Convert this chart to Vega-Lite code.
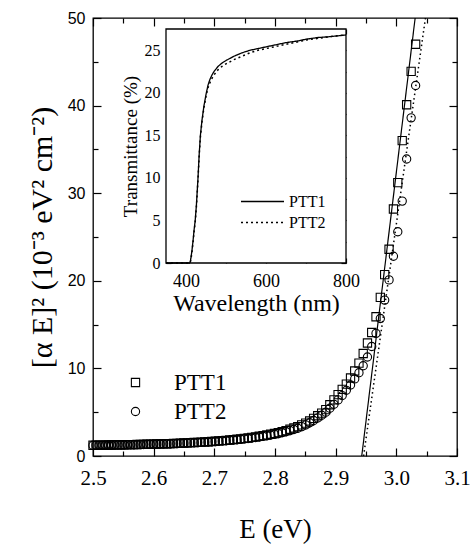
{
"$schema":"https://vega.github.io/schema/vega-lite/v6.json",
"width":364,"height":438,
"autosize":{"type":"none"},
"padding":{"left":93,"top":18,"right":14,"bottom":96},
"background":"white",
"config":{"font":"Liberation Serif","view":{"stroke":"black","strokeWidth":1.3},"axis":{"grid":false,"domain":false,"tickColor":"black","tickWidth":1.2,"labelColor":"black","titleColor":"black","labelFont":"Liberation Serif","titleFont":"Liberation Serif","titleFontWeight":"normal"},"legend":{"labelFont":"Liberation Serif","labelColor":"black"}},
"datasets":{
"pts":[
{"E":3.0318,"s":"PTT1","v":47.0},{"E":3.0244,"s":"PTT1","v":43.9},{"E":3.0170,"s":"PTT1","v":40.1},{"E":3.0097,"s":"PTT1","v":36.0},{"E":3.0024,"s":"PTT1","v":31.2},{"E":2.9952,"s":"PTT1","v":28.2},{"E":2.9880,"s":"PTT1","v":23.6},{"E":2.9808,"s":"PTT1","v":20.7},{"E":2.9736,"s":"PTT1","v":18.1},{"E":2.9665,"s":"PTT1","v":15.9},
{"E":2.9594,"s":"PTT1","v":14.1},{"E":2.9524,"s":"PTT1","v":12.9},{"E":2.9454,"s":"PTT1","v":11.7},{"E":2.9384,"s":"PTT1","v":10.6},{"E":2.9314,"s":"PTT1","v":9.7},{"E":2.9245,"s":"PTT1","v":8.9},{"E":2.9176,"s":"PTT1","v":8.2},{"E":2.9108,"s":"PTT1","v":7.6},{"E":2.9040,"s":"PTT1","v":7.0},{"E":2.8972,"s":"PTT1","v":6.4},
{"E":2.8904,"s":"PTT1","v":5.85},{"E":2.8837,"s":"PTT1","v":5.3},{"E":2.8770,"s":"PTT1","v":4.9},{"E":2.8704,"s":"PTT1","v":4.6},{"E":2.8637,"s":"PTT1","v":4.3},{"E":2.8571,"s":"PTT1","v":4.0},{"E":2.8506,"s":"PTT1","v":3.75},{"E":2.8440,"s":"PTT1","v":3.55},{"E":2.8375,"s":"PTT1","v":3.35},{"E":2.8311,"s":"PTT1","v":3.2},
{"E":2.8246,"s":"PTT1","v":3.05},{"E":2.8182,"s":"PTT1","v":2.9},{"E":2.8118,"s":"PTT1","v":2.78},{"E":2.8054,"s":"PTT1","v":2.67},{"E":2.7991,"s":"PTT1","v":2.57},{"E":2.7928,"s":"PTT1","v":2.48},{"E":2.7865,"s":"PTT1","v":2.4},{"E":2.7803,"s":"PTT1","v":2.32},{"E":2.7740,"s":"PTT1","v":2.25},{"E":2.7679,"s":"PTT1","v":2.18},
{"E":2.7617,"s":"PTT1","v":2.12},{"E":2.7556,"s":"PTT1","v":2.06},{"E":2.7494,"s":"PTT1","v":2.01},{"E":2.7434,"s":"PTT1","v":1.96},{"E":2.7373,"s":"PTT1","v":1.91},{"E":2.7313,"s":"PTT1","v":1.87},{"E":2.7253,"s":"PTT1","v":1.83},{"E":2.7193,"s":"PTT1","v":1.79},{"E":2.7133,"s":"PTT1","v":1.75},{"E":2.7074,"s":"PTT1","v":1.72},
{"E":2.7015,"s":"PTT1","v":1.69},{"E":2.6957,"s":"PTT1","v":1.66},{"E":2.6898,"s":"PTT1","v":1.63},{"E":2.6840,"s":"PTT1","v":1.61},{"E":2.6782,"s":"PTT1","v":1.58},{"E":2.6724,"s":"PTT1","v":1.56},{"E":2.6667,"s":"PTT1","v":1.54},{"E":2.6609,"s":"PTT1","v":1.52},{"E":2.6552,"s":"PTT1","v":1.50},{"E":2.6496,"s":"PTT1","v":1.48},
{"E":2.6439,"s":"PTT1","v":1.46},{"E":2.6383,"s":"PTT1","v":1.45},{"E":2.6327,"s":"PTT1","v":1.43},{"E":2.6271,"s":"PTT1","v":1.42},{"E":2.6216,"s":"PTT1","v":1.40},{"E":2.6160,"s":"PTT1","v":1.39},{"E":2.6105,"s":"PTT1","v":1.38},{"E":2.6050,"s":"PTT1","v":1.37},{"E":2.5996,"s":"PTT1","v":1.36},{"E":2.5941,"s":"PTT1","v":1.35},
{"E":2.5887,"s":"PTT1","v":1.34},{"E":2.5833,"s":"PTT1","v":1.33},{"E":2.5780,"s":"PTT1","v":1.32},{"E":2.5726,"s":"PTT1","v":1.31},{"E":2.5673,"s":"PTT1","v":1.30},{"E":2.5620,"s":"PTT1","v":1.30},{"E":2.5567,"s":"PTT1","v":1.29},{"E":2.5514,"s":"PTT1","v":1.28},{"E":2.5462,"s":"PTT1","v":1.28},{"E":2.5410,"s":"PTT1","v":1.27},
{"E":2.5358,"s":"PTT1","v":1.27},{"E":2.5306,"s":"PTT1","v":1.26},{"E":2.5255,"s":"PTT1","v":1.26},{"E":2.5203,"s":"PTT1","v":1.25},{"E":2.5152,"s":"PTT1","v":1.25},{"E":2.5101,"s":"PTT1","v":1.24},{"E":2.5051,"s":"PTT1","v":1.24},{"E":2.5000,"s":"PTT1","v":1.23},
{"E":3.0318,"s":"PTT2","v":42.3},{"E":3.0244,"s":"PTT2","v":38.6},{"E":3.0170,"s":"PTT2","v":33.9},{"E":3.0097,"s":"PTT2","v":29.1},{"E":3.0024,"s":"PTT2","v":25.6},{"E":2.9952,"s":"PTT2","v":22.8},{"E":2.9880,"s":"PTT2","v":20.1},{"E":2.9808,"s":"PTT2","v":17.8},{"E":2.9736,"s":"PTT2","v":15.7},{"E":2.9665,"s":"PTT2","v":14.0},
{"E":2.9594,"s":"PTT2","v":12.5},{"E":2.9524,"s":"PTT2","v":11.3},{"E":2.9454,"s":"PTT2","v":10.3},{"E":2.9384,"s":"PTT2","v":9.5},{"E":2.9314,"s":"PTT2","v":8.8},{"E":2.9245,"s":"PTT2","v":8.1},{"E":2.9176,"s":"PTT2","v":7.5},{"E":2.9108,"s":"PTT2","v":6.9},{"E":2.9040,"s":"PTT2","v":6.4},{"E":2.8972,"s":"PTT2","v":5.9},
{"E":2.8904,"s":"PTT2","v":5.45},{"E":2.8837,"s":"PTT2","v":5.0},{"E":2.8770,"s":"PTT2","v":4.65},{"E":2.8704,"s":"PTT2","v":4.35},{"E":2.8637,"s":"PTT2","v":4.05},{"E":2.8571,"s":"PTT2","v":3.8},{"E":2.8506,"s":"PTT2","v":3.55},{"E":2.8440,"s":"PTT2","v":3.35},{"E":2.8375,"s":"PTT2","v":3.17},{"E":2.8311,"s":"PTT2","v":3.02},
{"E":2.8246,"s":"PTT2","v":2.89},{"E":2.8182,"s":"PTT2","v":2.77},{"E":2.8118,"s":"PTT2","v":2.66},{"E":2.8054,"s":"PTT2","v":2.56},{"E":2.7991,"s":"PTT2","v":2.47},{"E":2.7928,"s":"PTT2","v":2.39},{"E":2.7865,"s":"PTT2","v":2.31},{"E":2.7803,"s":"PTT2","v":2.24},{"E":2.7740,"s":"PTT2","v":2.17},{"E":2.7679,"s":"PTT2","v":2.11},
{"E":2.7617,"s":"PTT2","v":2.05},{"E":2.7556,"s":"PTT2","v":2.0},{"E":2.7494,"s":"PTT2","v":1.95},{"E":2.7434,"s":"PTT2","v":1.90},{"E":2.7373,"s":"PTT2","v":1.86},{"E":2.7313,"s":"PTT2","v":1.82},{"E":2.7253,"s":"PTT2","v":1.78},{"E":2.7193,"s":"PTT2","v":1.74},{"E":2.7133,"s":"PTT2","v":1.71},{"E":2.7074,"s":"PTT2","v":1.68},
{"E":2.7015,"s":"PTT2","v":1.65},{"E":2.6957,"s":"PTT2","v":1.62},{"E":2.6898,"s":"PTT2","v":1.60},{"E":2.6840,"s":"PTT2","v":1.57},{"E":2.6782,"s":"PTT2","v":1.55},{"E":2.6724,"s":"PTT2","v":1.53},{"E":2.6667,"s":"PTT2","v":1.51},{"E":2.6609,"s":"PTT2","v":1.49},{"E":2.6552,"s":"PTT2","v":1.47},{"E":2.6496,"s":"PTT2","v":1.45},
{"E":2.6439,"s":"PTT2","v":1.44},{"E":2.6383,"s":"PTT2","v":1.42},{"E":2.6327,"s":"PTT2","v":1.41},{"E":2.6271,"s":"PTT2","v":1.39},{"E":2.6216,"s":"PTT2","v":1.38},{"E":2.6160,"s":"PTT2","v":1.37},{"E":2.6105,"s":"PTT2","v":1.36},{"E":2.6050,"s":"PTT2","v":1.35},{"E":2.5996,"s":"PTT2","v":1.34},{"E":2.5941,"s":"PTT2","v":1.33},
{"E":2.5887,"s":"PTT2","v":1.32},{"E":2.5833,"s":"PTT2","v":1.31},{"E":2.5780,"s":"PTT2","v":1.30},{"E":2.5726,"s":"PTT2","v":1.29},{"E":2.5673,"s":"PTT2","v":1.28},{"E":2.5620,"s":"PTT2","v":1.28},{"E":2.5567,"s":"PTT2","v":1.27},{"E":2.5514,"s":"PTT2","v":1.26},{"E":2.5462,"s":"PTT2","v":1.26},{"E":2.5410,"s":"PTT2","v":1.25},
{"E":2.5358,"s":"PTT2","v":1.25},{"E":2.5306,"s":"PTT2","v":1.24},{"E":2.5255,"s":"PTT2","v":1.24},{"E":2.5203,"s":"PTT2","v":1.23},{"E":2.5152,"s":"PTT2","v":1.23},{"E":2.5101,"s":"PTT2","v":1.22},{"E":2.5051,"s":"PTT2","v":1.22},{"E":2.5000,"s":"PTT2","v":1.21}
],
"fit":[
{"E":2.943,"fit":"PTT1","v":0},{"E":3.031,"fit":"PTT1","v":50},
{"E":2.946,"fit":"PTT2","v":0},{"E":3.048,"fit":"PTT2","v":50}
],
"trans":[
{"w":350,"film":"PTT1","t":0},{"w":405,"film":"PTT1","t":0},{"w":410,"film":"PTT1","t":0},{"w":412,"film":"PTT1","t":0.5},{"w":415,"film":"PTT1","t":1.5},{"w":418,"film":"PTT1","t":2.8},{"w":420,"film":"PTT1","t":3.8},{"w":423,"film":"PTT1","t":5.0},{"w":426,"film":"PTT1","t":6.8},{"w":430,"film":"PTT1","t":10.0},
{"w":433,"film":"PTT1","t":12.8},{"w":436,"film":"PTT1","t":15.0},{"w":440,"film":"PTT1","t":16.8},{"w":445,"film":"PTT1","t":18.5},{"w":450,"film":"PTT1","t":19.8},{"w":455,"film":"PTT1","t":20.9},{"w":460,"film":"PTT1","t":21.6},{"w":465,"film":"PTT1","t":22.1},{"w":470,"film":"PTT1","t":22.5},{"w":480,"film":"PTT1","t":23.1},
{"w":490,"film":"PTT1","t":23.5},{"w":500,"film":"PTT1","t":23.8},{"w":520,"film":"PTT1","t":24.3},{"w":540,"film":"PTT1","t":24.7},{"w":560,"film":"PTT1","t":25.0},{"w":580,"film":"PTT1","t":25.2},{"w":600,"film":"PTT1","t":25.4},{"w":620,"film":"PTT1","t":25.6},{"w":650,"film":"PTT1","t":25.9},{"w":680,"film":"PTT1","t":26.1},
{"w":700,"film":"PTT1","t":26.3},{"w":730,"film":"PTT1","t":26.5},{"w":760,"film":"PTT1","t":26.6},{"w":780,"film":"PTT1","t":26.7},{"w":800,"film":"PTT1","t":26.8},
{"w":350,"film":"PTT2","t":0},{"w":405,"film":"PTT2","t":0},{"w":410,"film":"PTT2","t":0},{"w":412,"film":"PTT2","t":0.3},{"w":415,"film":"PTT2","t":1.3},{"w":418,"film":"PTT2","t":2.6},{"w":420,"film":"PTT2","t":3.6},{"w":423,"film":"PTT2","t":4.8},{"w":426,"film":"PTT2","t":6.6},{"w":430,"film":"PTT2","t":9.8},
{"w":433,"film":"PTT2","t":12.6},{"w":436,"film":"PTT2","t":14.8},{"w":440,"film":"PTT2","t":16.6},{"w":445,"film":"PTT2","t":18.3},{"w":450,"film":"PTT2","t":19.6},{"w":455,"film":"PTT2","t":20.6},{"w":460,"film":"PTT2","t":21.2},{"w":465,"film":"PTT2","t":21.7},{"w":470,"film":"PTT2","t":22.1},{"w":480,"film":"PTT2","t":22.7},
{"w":490,"film":"PTT2","t":23.1},{"w":500,"film":"PTT2","t":23.4},{"w":520,"film":"PTT2","t":23.9},{"w":540,"film":"PTT2","t":24.3},{"w":560,"film":"PTT2","t":24.7},{"w":580,"film":"PTT2","t":25.0},{"w":600,"film":"PTT2","t":25.2},{"w":620,"film":"PTT2","t":25.4},{"w":650,"film":"PTT2","t":25.7},{"w":680,"film":"PTT2","t":26.0},
{"w":700,"film":"PTT2","t":26.2},{"w":730,"film":"PTT2","t":26.4},{"w":760,"film":"PTT2","t":26.6},{"w":780,"film":"PTT2","t":26.7},{"w":800,"film":"PTT2","t":26.8}
]
},
"layer":[
{
"layer":[
{
"data":{"name":"pts"},
"transform":[{"filter":"datum.s=='PTT1'"}],
"mark":{"type":"point","filled":false,"stroke":"black","strokeWidth":1.1,"opacity":1,"size":68},
"encoding":{
"x":{"field":"E","type":"quantitative","scale":{"domain":[2.5,3.1],"nice":false,"zero":false},
"axis":{"orient":"bottom","offset":-8,"values":[2.5,2.6,2.7,2.8,2.9,3.0,3.1],"tickSize":8,"format":".1f",
"labelFont":"Liberation Serif","labelFontSize":21,"labelPadding":11,"labelFlush":false,"title":"E (eV)","titleFont":"Liberation Serif","titleFontSize":27,"titlePadding":28}},
"y":{"field":"v","type":"quantitative","scale":{"domain":[0,50],"nice":false},
"axis":{"orient":"left","offset":-8,"values":[0,10,20,30,40,50],"tickSize":8,
"labelFont":"Liberation Sans","labelFontSize":16,"labelPadding":8,"labelFlush":false,"title":"[α E]² (10⁻³ eV² cm⁻²)","titleFont":"Liberation Serif","titleFontSize":30,"titlePadding":10}},
"shape":{"field":"s","type":"nominal","scale":{"domain":["PTT1","PTT2"],"range":["square","circle"]},
"legend":{"title":null,"orient":"none","legendX":31,"legendY":353,"labelFont":"Liberation Serif","labelFontSize":23,"labelOffset":27,"rowPadding":5,"symbolSize":68,"symbolStrokeColor":"black","symbolStrokeWidth":1.1,"symbolFillColor":"transparent"}}
}
},
{
"data":{"name":"pts"},
"transform":[{"filter":"datum.s=='PTT2'"}],
"mark":{"type":"point","filled":false,"stroke":"black","strokeWidth":1.1,"opacity":1,"size":68},
"encoding":{
"x":{"field":"E","type":"quantitative","axis":{"orient":"bottom","offset":-5,"values":[2.55,2.65,2.75,2.85,2.95,3.05],"tickSize":5,"labels":false,"title":null}},
"y":{"field":"v","type":"quantitative","axis":{"orient":"left","offset":-5,"values":[5,15,25,35,45],"tickSize":5,"labels":false,"title":null}},
"shape":{"field":"s","type":"nominal"}
}
},
{
"data":{"name":"fit"},
"transform":[{"filter":"datum.fit=='PTT1'"}],
"mark":{"type":"line","color":"black","strokeWidth":1.2},
"encoding":{
"x":{"field":"E","type":"quantitative","axis":{"orient":"top","offset":-8,"values":[2.5,2.6,2.7,2.8,2.9,3.0,3.1],"tickSize":8,"labels":false,"title":null}},
"y":{"field":"v","type":"quantitative","axis":{"orient":"right","offset":-8,"values":[0,10,20,30,40,50],"tickSize":8,"labels":false,"title":null}}
}
},
{
"data":{"name":"fit"},
"transform":[{"filter":"datum.fit=='PTT2'"}],
"mark":{"type":"line","color":"black","strokeWidth":1.5,"strokeDash":[1.5,3]},
"encoding":{
"x":{"field":"E","type":"quantitative","axis":{"orient":"top","offset":-5,"values":[2.55,2.65,2.75,2.85,2.95,3.05],"tickSize":5,"labels":false,"title":null}},
"y":{"field":"v","type":"quantitative","axis":{"orient":"right","offset":-5,"values":[5,15,25,35,45],"tickSize":5,"labels":false,"title":null}}
}
}
],
"resolve":{"axis":{"x":"independent","y":"independent"}}
},
{
"layer":[
{
"data":{"values":[{}]},
"mark":{"type":"rect","fill":"white","stroke":"black","strokeWidth":1.3},
"encoding":{
"x":{"datum":350,"type":"quantitative","scale":{"domain":[350,800],"range":[73,253],"nice":false,"zero":false},"axis":null},
"x2":{"datum":800},
"y":{"datum":0,"type":"quantitative","scale":{"domain":[0,27.5],"range":[245,11],"nice":false},"axis":null},
"y2":{"datum":27.5}
}
},
{
"data":{"name":"trans"},
"transform":[{"filter":"datum.film=='PTT1'"}],
"mark":{"type":"line","color":"black","strokeWidth":1.3},
"encoding":{
"x":{"field":"w","type":"quantitative",
"axis":{"orient":"bottom","offset":-198,"values":[400,500,600,700,800],"tickSize":5,
"labelExpr":"datum.value%200==0 ? datum.label : ''","labelFont":"Liberation Serif","labelFontSize":18,"labelPadding":9,"labelFlush":false,"title":"Wavelength (nm)","titleFont":"Liberation Serif","titleFontSize":24,"titlePadding":1}},
"y":{"field":"t","type":"quantitative",
"axis":{"orient":"left","offset":-78,"values":[0,2.5,5,7.5,10,12.5,15,17.5,20,22.5,25],"tickSize":5,
"labelExpr":"datum.value%5==0 ? datum.label : ''","labelFont":"Liberation Serif","labelFontSize":16,"labelPadding":6,"labelFlush":false,"title":"Transmittance (%)","titleFont":"Liberation Serif","titleFontSize":19,"titlePadding":4}},
"strokeDash":{"field":"film","type":"nominal","scale":{"domain":["PTT2","PTT1"],"range":[[2,3],[1,0]]},
"legend":{"title":null,"values":["PTT1","PTT2"],"orient":"none","legendX":147,"legendY":173,"labelFont":"Liberation Serif","labelFontSize":16,"labelOffset":4,"symbolType":"stroke","symbolSize":1849,"symbolStrokeWidth":1.5,"symbolStrokeColor":"black","rowPadding":0,"clipHeight":21}}
}
},
{
"data":{"name":"trans"},
"transform":[{"filter":"datum.film=='PTT2'"}],
"mark":{"type":"line","color":"black","strokeWidth":1.5},
"encoding":{
"x":{"field":"w","type":"quantitative","axis":{"orient":"top","offset":-16,"values":[400,500,600,700,800],"tickSize":5,"labels":false,"title":null}},
"y":{"field":"t","type":"quantitative","axis":{"orient":"right","offset":-116,"values":[0,2.5,5,7.5,10,12.5,15,17.5,20,22.5,25],"tickSize":5,"labels":false,"title":null}},
"strokeDash":{"field":"film","type":"nominal"}
}
}
],
"resolve":{"axis":{"x":"independent","y":"independent"}}
}
],
"resolve":{"scale":{"x":"independent","y":"independent"}}
}
